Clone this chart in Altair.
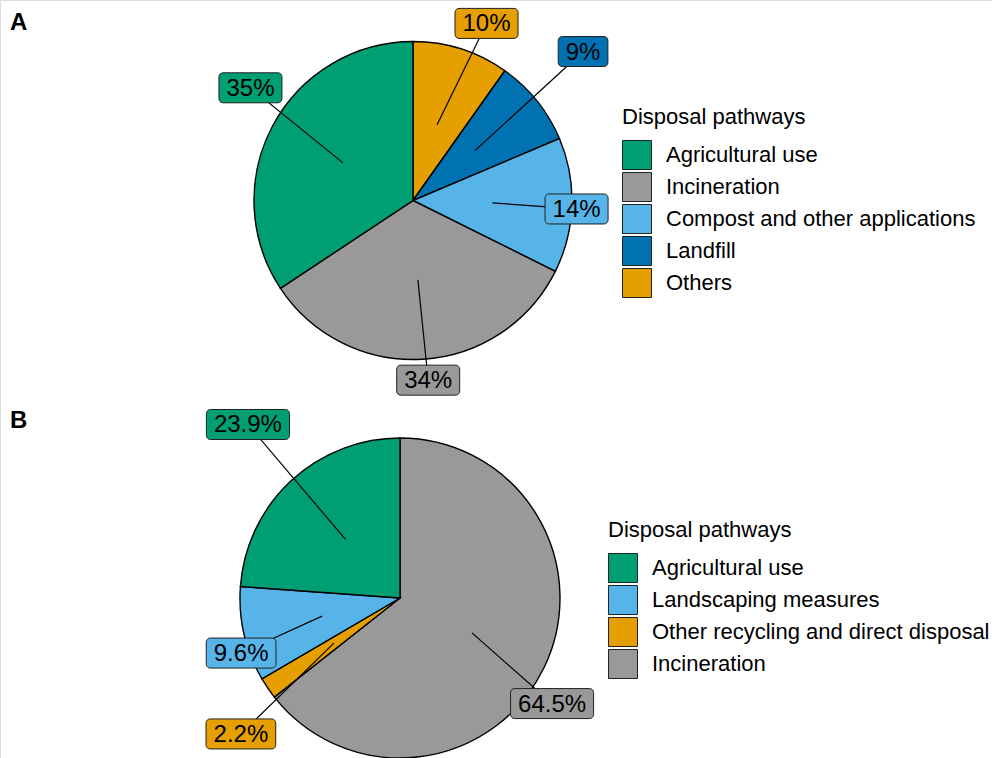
import math
import altair as alt
import pandas as pd

# ---------------- data ----------------
cats_a = ["Agricultural use", "Incineration", "Compost and other applications", "Landfill", "Others"]
vals_a = [35, 34, 14, 9, 10]
colors_a = ["#009E73", "#999999", "#56B4E9", "#0072B2", "#E69F00"]

cats_b = ["Agricultural use", "Landscaping measures", "Other recycling and direct disposal", "Incineration"]
vals_b = [23.9, 9.6, 2.2, 64.5]
colors_b = ["#009E73", "#56B4E9", "#E69F00", "#999999"]

# ------------- layout (repelled label placement, in pie radii / degrees) -------------
lab_r_a = [1.244, 1.134, 1.030, 1.422, 1.206]
lab_shift_a = [6.5, -1.3, 1.2, -2.4, 4.9]
lab_r_b = [1.442, 1.051, 1.308, 1.157]
lab_shift_b = [1.7, -6.0, -6.2, 8.9]

W, H = 992, 758
S = 159.0                      # pixels per data unit
CENTER_A, R_A = (413, 200.5), 159
CENTER_B, R_B = (400, 598), 160
FONT = "Liberation Sans"
LABEL_FS = 24
CHAR_EM = {".": 0.278, "%": 0.889}


def text_width(s, fs):
    return sum(CHAR_EM.get(c, 0.556) for c in s) * fs


def pie_frame(cats, vals, colors, fmt, lab_r, lab_shift, center, R):
    total = sum(vals)
    n = len(cats)
    cx, cy = center[0] / S, center[1] / S
    rpie = R / S
    rows = []
    cum = 0.0
    for k, i in enumerate(reversed(range(n))):
        v = vals[i]
        mid = (cum + v / 2) / total * 2 * math.pi
        cum += v
        la = mid + math.radians(lab_shift[i])
        lr = lab_r[i] * rpie
        lx = cx + lr * math.sin(la)
        ly = cy - lr * math.cos(la)
        label = fmt.format(v)
        hw = (text_width(label, LABEL_FS) + 15) / 2 / S
        hh = 15 / S
        rows.append(dict(
            category=cats[i], value=v, order=k, color=colors[i], label=label,
            x0=cx + 0.5 * rpie * math.sin(mid), y0=cy - 0.5 * rpie * math.cos(mid),
            lx=lx, ly=ly, bx1=lx - hw, bx2=lx + hw, by1=ly - hh, by2=ly + hh,
        ))
    return pd.DataFrame(rows)


df_a = pie_frame(cats_a, vals_a, colors_a, "{:.0f}%", lab_r_a, lab_shift_a, CENTER_A, R_A)
df_b = pie_frame(cats_b, vals_b, colors_b, "{:.1f}%", lab_r_b, lab_shift_b, CENTER_B, R_B)

xs = alt.Scale(domain=[0, W / S], nice=False, zero=False)
ys = alt.Scale(domain=[H / S, 0], nice=False, zero=False)


def legend(x, y):
    return alt.Legend(
        title="Disposal pathways", orient="none", legendX=x, legendY=y,
        symbolType="square", symbolSize=841, symbolStrokeColor="#222",
        symbolStrokeWidth=1, symbolOpacity=1, labelFontSize=22, titleFontSize=22,
        titleFontWeight="normal", labelFont=FONT, titleFont=FONT,
        labelColor="black", titleColor="black", labelLimit=0, titleLimit=0,
        rowPadding=-2, labelOffset=14, titlePadding=11, padding=0,
    )


def pie_layers(df, cats, colors, center, R, lg):
    cx, cy = center[0] / S, center[1] / S
    arc = alt.Chart(df).mark_arc(outerRadius=R, stroke="black", strokeWidth=1.4).encode(
        theta=alt.Theta("value:Q", stack=True),
        order=alt.Order("order:Q"),
        color=alt.Color("category:N", scale=alt.Scale(domain=cats, range=colors), legend=lg),
        x=alt.XDatum(cx, type="quantitative", scale=xs, axis=None),
        y=alt.YDatum(cy, type="quantitative", scale=ys, axis=None),
    )
    rule = alt.Chart(df).mark_rule(color="black", strokeWidth=1.2).encode(
        x=alt.X("x0:Q", scale=xs, axis=None), y=alt.Y("y0:Q", scale=ys, axis=None),
        x2="lx:Q", y2="ly:Q",
    )
    box = alt.Chart(df).mark_rect(cornerRadius=4, stroke="#222", strokeWidth=1).encode(
        x=alt.X("bx1:Q", scale=xs, axis=None), y=alt.Y("by1:Q", scale=ys, axis=None),
        x2="bx2:Q", y2="by2:Q", fill=alt.Fill("color:N", scale=None),
    )
    txt = alt.Chart(df).mark_text(fontSize=LABEL_FS, font=FONT, color="black",
                                  align="center", baseline="middle", dy=1).encode(
        x=alt.X("lx:Q", scale=xs, axis=None), y=alt.Y("ly:Q", scale=ys, axis=None),
        text="label:N",
    )
    return [arc, rule, box, txt]


tag_a = alt.Chart(pd.DataFrame({"t": ["A"]})).mark_text(
    fontSize=24, font=FONT, fontWeight="bold", align="left", baseline="alphabetic", color="black"
).encode(x=alt.value(10), y=alt.value(30), text="t:N")
tag_b = alt.Chart(pd.DataFrame({"t": ["B"]})).mark_text(
    fontSize=24, font=FONT, fontWeight="bold", align="left", baseline="alphabetic", color="black"
).encode(x=alt.value(10), y=alt.value(428), text="t:N")

layers = (pie_layers(df_a, cats_a, colors_a, CENTER_A, R_A, legend(622, 107))
          + pie_layers(df_b, cats_b, colors_b, CENTER_B, R_B, legend(608, 520))
          + [tag_a, tag_b])

chart = alt.layer(*layers).resolve_scale(
    color="independent", theta="independent"
).properties(
    width=W, height=H, padding=0, autosize=alt.AutoSizeParams(type="none"),
).configure_view(stroke=None).configure(font=FONT)

chart.save("out.html", embed_options={"renderer": "svg", "actions": False})
